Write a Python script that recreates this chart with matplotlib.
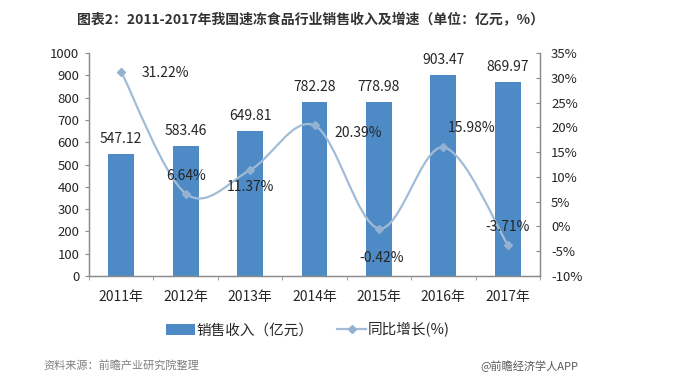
import matplotlib

matplotlib.use("Agg")

import matplotlib.pyplot as plt
import numpy as np
from matplotlib.path import Path
from matplotlib.patches import PathPatch, Patch
from matplotlib.lines import Line2D
from matplotlib.ticker import FixedLocator

plt.rcParams["font.family"] = ["Noto Sans CJK SC", "DejaVu Sans"]
plt.rcParams["axes.unicode_minus"] = False

years = ["2011年", "2012年", "2013年", "2014年", "2015年", "2016年", "2017年"]
revenue = [547.12, 583.46, 649.81, 782.28, 778.98, 903.47, 869.97]
growth = [31.22, 6.64, 11.37, 20.39, -0.42, 15.98, -3.71]
# pixel offsets of the growth labels from their points
growth_offsets = [(44, -1), (0, 18), (0, -17), (44, -8), (3, -29), (28, 19), (0, 18)]

BAR_COLOR = "#4D8AC6"
LINE_COLOR = "#A3BCD6"
MARKER_COLOR = "#93B1D1"
SPINE_COLOR = "#8C8C8C"
TEXT_COLOR = "#262626"


def smooth_path(xs, ys):
    # Catmull-Rom style bezier, like a spreadsheet "smoothed line"
    pts = np.column_stack([xs, ys]).astype(float)
    verts = [pts[0]]
    codes = [Path.MOVETO]
    n = len(pts)
    for i in range(n - 1):
        p0 = pts[i - 1] if i > 0 else pts[i]
        p1 = pts[i]
        p2 = pts[i + 1]
        p3 = pts[i + 2] if i + 2 < n else pts[i + 1]
        c1 = p1 + (p2 - p0) / 6.0
        c2 = p2 - (p3 - p1) / 6.0
        verts += [c1, c2, p2]
        codes += [Path.CURVE4] * 3
    return Path(verts, codes)


fig = plt.figure(figsize=(6.8, 3.84), dpi=100)
ax = fig.add_axes([89 / 680, 1 - 276 / 384, 451 / 680, 223 / 384])
ax2 = ax.twinx()

x = np.arange(len(years))
ax.bar(x, revenue, width=0.4, color=BAR_COLOR, zorder=2)
ax.set_xlim(-0.5, len(years) - 0.5)
ax.set_ylim(0, 1000)
ax.set_yticks(np.arange(0, 1001, 100))
ax.set_xticks(x)
ax.set_xticklabels(years)
ax.xaxis.set_minor_locator(FixedLocator(np.arange(-0.5, len(years), 1.0)))
ax.tick_params(axis="x", which="major", length=0, pad=10, labelsize=10, colors=TEXT_COLOR)
ax.tick_params(axis="x", which="minor", length=3, color=SPINE_COLOR, direction="out")
ax.tick_params(axis="y", length=3, color=SPINE_COLOR, labelsize=9.5, labelcolor=TEXT_COLOR, pad=4)

for xi, v in zip(x, revenue):
    ax.annotate(f"{v:.2f}", (xi, v), textcoords="offset pixels", xytext=(0, 15),
                ha="center", va="center", fontsize=10, color=TEXT_COLOR)

ax2.set_ylim(-10, 35)
ax2.set_yticks(np.arange(-10, 36, 5))
ax2.set_yticklabels([f"{t}%" for t in range(-10, 36, 5)])
ax2.tick_params(axis="y", length=3, direction="in", color=SPINE_COLOR, labelsize=9.5,
                labelcolor=TEXT_COLOR, pad=8)

ax2.add_patch(PathPatch(smooth_path(x, growth), facecolor="none", edgecolor=LINE_COLOR,
                        linewidth=1.6, zorder=3))
ax2.plot(x, growth, linestyle="none", marker="D", markersize=4.5, color=MARKER_COLOR, zorder=4)
for xi, g, off in zip(x, growth, growth_offsets):
    ax2.annotate(f"{g:.2f}%", (xi, g), textcoords="offset pixels", xytext=off,
                 ha="center", va="center", fontsize=10, color=TEXT_COLOR)

for a in (ax, ax2):
    a.spines["top"].set_visible(False)
    for s in ("left", "right", "bottom"):
        a.spines[s].set_color(SPINE_COLOR)
        a.spines[s].set_linewidth(0.9)

fig.text(310 / 680, 1 - 20 / 384,
         "图表2：2011-2017年我国速冻食品行业销售收入及增速（单位：亿元，%）",
         ha="center", va="center", fontsize=10, fontweight="bold", color="#333333")

handles = [
    Patch(facecolor=BAR_COLOR, edgecolor="none", label="销售收入（亿元）"),
    Line2D([], [], color=LINE_COLOR, linewidth=1.6, marker="D", markersize=4,
           markerfacecolor=MARKER_COLOR, markeredgecolor=MARKER_COLOR, label="同比增长(%)"),
]
fig.legend(handles=handles, loc="center", bbox_to_anchor=(308 / 680, 1 - 330 / 384), ncol=2,
           frameon=False, fontsize=10.5, handlelength=2.0, handletextpad=0.1,
           columnspacing=1.6, labelcolor=TEXT_COLOR)

fig.text(43 / 680, 1 - 365 / 384, "资料来源：前瞻产业研究院整理", ha="left", va="center",
         fontsize=8, color="#7F7F7F", style="italic")
fig.text(480 / 680, 1 - 366 / 384, "@前瞻经济学人APP", ha="left", va="center",
         fontsize=8, color="#595959")

fig.savefig("out.png", dpi=100)
plt.close(fig)
